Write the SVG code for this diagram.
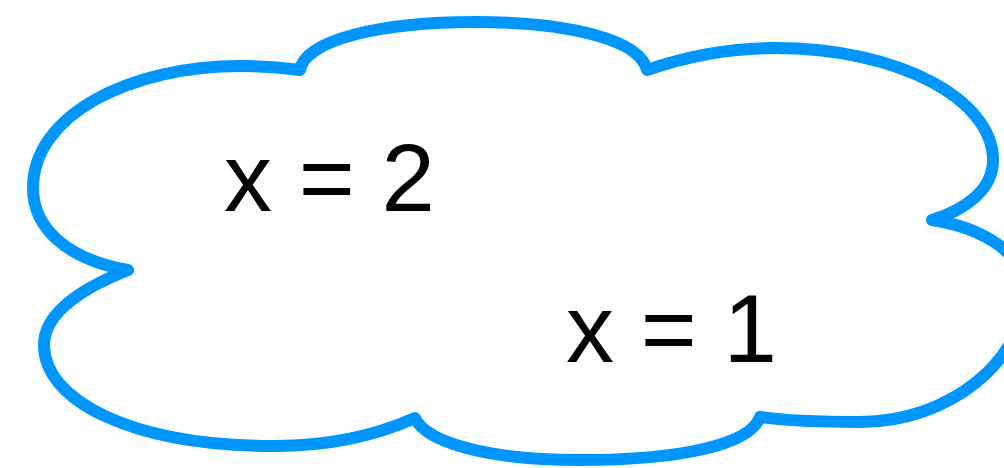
<svg xmlns="http://www.w3.org/2000/svg" width="1004" height="468" viewBox="0 0 1004 468">
<style>
.cloud{fill:#ffffff;stroke:#0096FF;stroke-width:12;stroke-linejoin:round}
.lbl{font-family:"Liberation Sans",Arial,sans-serif;font-size:96px;fill:#000000}
</style>
<rect width="1004" height="468" fill="#ffffff"/>
<g id="cloud">
<path class="cloud" d="M128,270 C70,260 33,230 33,188 C33,115 130,66 240,66 C265,66 285,68 300,70 C305,40 380,22 475,22 C570,22 640,40 647,70 C690,55 730,48 775,48 C900,48 993,100 993,160 C993,190 965,210 932,220 C985,228 1025,255 1025,290 C1025,360 950,422 860,422 C810,422 780,420 760,417 C750,445 680,460 580,460 C480,460 425,440 415,418 C370,438 320,446 275,446 C130,446 44,400 44,345 C44,310 90,285 128,270 Z"/>
</g>
<g id="label-x2"><text class="lbl" x="224" y="211">x = 2</text></g>
<g id="label-x1"><text class="lbl" x="566" y="362">x = 1</text></g>
</svg>
